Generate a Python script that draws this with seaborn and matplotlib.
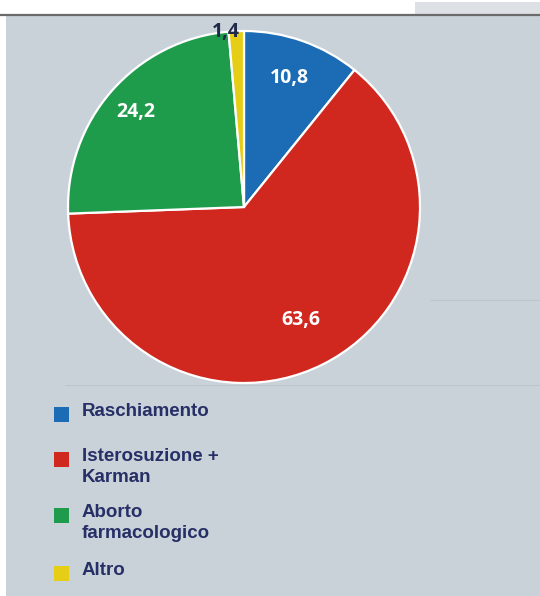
import matplotlib
matplotlib.use("Agg")
import matplotlib.pyplot as plt
import seaborn as sns
import numpy as np
from matplotlib.patches import Rectangle
from matplotlib.lines import Line2D

# ---- data ----
categories = ["Raschiamento", "Isterosuzione +\nKarman", "Aborto\nfarmacologico", "Altro"]
values = [10.8, 63.6, 24.2, 1.4]
value_labels = ["10,8", "63,6", "24,2", "1,4"]
colors = ["#1b6cb4", "#d0271f", "#1f9c4b", "#e6cd16"]

sns.set_theme(style="white")
plt.rcParams['font.family'] = ['Liberation Sans', 'DejaVu Sans']

W, H = 540, 596
fig = plt.figure(figsize=(W / 100, H / 100), dpi=100)
fig.patch.set_facecolor("white")

def fx(px):
    return px / W

def fy(py):
    return 1 - py / H

# background panel
fig.patches.append(Rectangle((fx(6), 0), 1 - fx(6), fy(16), transform=fig.transFigure,
                             facecolor="#cad2d9", edgecolor="none", zorder=0))
fig.patches.append(Rectangle((fx(415), fy(14)), 1 - fx(415), fy(2) - fy(14), transform=fig.transFigure,
                             facecolor="#dde1e5", edgecolor="none", zorder=0))
fig.lines.append(Line2D([0, 1], [fy(15), fy(15)], transform=fig.transFigure,
                        color="#6b6b6b", linewidth=1.6, zorder=1))
fig.lines.append(Line2D([fx(430), 1], [fy(300), fy(300)], transform=fig.transFigure,
                        color="#bcc6cf", linewidth=0.8, zorder=1))
fig.lines.append(Line2D([fx(65), 1], [fy(385), fy(385)], transform=fig.transFigure,
                        color="#bcc6cf", linewidth=0.8, zorder=1))

# pie
cx, cy, r = 244, 207, 176
ax = fig.add_axes([fx(cx - r), fy(cy + r), 2 * r / W, 2 * r / H])
ax.set_zorder(5)
ax.set_facecolor("none")
ax.patch.set_alpha(0)
wedges, _ = ax.pie(values, colors=colors, startangle=90, counterclock=False, radius=1,
                   wedgeprops=dict(edgecolor="white", linewidth=1.6))
ax.set_xlim(-1, 1)
ax.set_ylim(-1, 1)
ax.set_aspect("equal")
ax.axis("off")

dists = [0.78, 0.72, 0.82, 1.0]
offsets = [0, 0, 0, 3.5]
txt_colors = ["white", "white", "white", "#1f2a4a"]
for w, lab, d, off, tc in zip(wedges, value_labels, dists, offsets, txt_colors):
    ang = np.deg2rad((w.theta1 + w.theta2) / 2 + off)
    ax.text(d * np.cos(ang), d * np.sin(ang), lab, ha="center", va="center",
            color=tc, fontsize=14, fontweight="bold", family=["Open Sans", "DejaVu Sans"],
            clip_on=False)

# legend
sq_y = [414, 459, 515, 573]
for cat, col, y in zip(categories, colors, sq_y):
    fig.patches.append(Rectangle((fx(54), fy(y + 7.5)), 15 / W, 15 / H, transform=fig.transFigure,
                                 facecolor=col, edgecolor="none", zorder=2))
    fig.text(fx(82), fy(y - 11), cat, ha="left", va="top", fontsize=13.5, fontweight="bold",
             color="#262f66", linespacing=1.28)

fig.savefig("out.png", dpi=100, facecolor=fig.get_facecolor())
